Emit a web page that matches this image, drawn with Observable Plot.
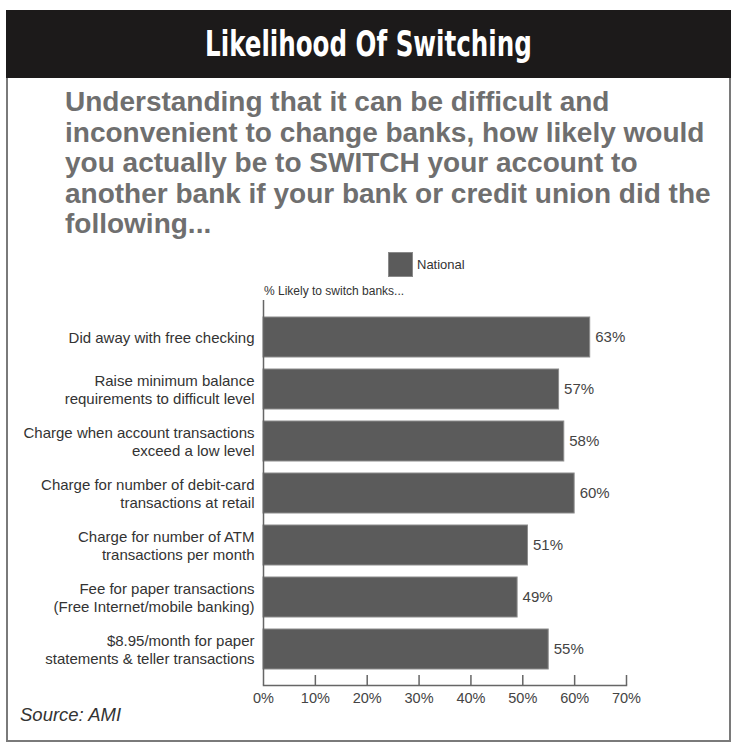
<!DOCTYPE html>
<html>
<head>
<meta charset="utf-8">
<script src="https://cdn.jsdelivr.net/npm/d3@7"></script>
<script src="https://cdn.jsdelivr.net/npm/@observablehq/plot@0.6"></script>
<style>
  html, body { margin: 0; padding: 0; background: #fff; }
  #card { margin: 10px 0 0 6px; width: 725px; height: 732px; border: 2px solid #7a7a7a; box-sizing: border-box; font-family: "Liberation Sans", Arial, sans-serif; }
  #title { margin: -2px -2px 0 -2px; height: 68px; background: #1c1a1a; display: flex; align-items: center; justify-content: center; }
  #title span { display: inline-block; color: #fff; font-family: "DejaVu Sans Condensed", "DejaVu Sans", sans-serif; font-stretch: condensed; font-weight: bold; font-size: 35px; line-height: 40px; transform: scaleX(0.78); white-space: nowrap; }
  #question { margin: 9px 0 0 57px; color: #6f6f6f; font-weight: bold; font-size: 28px; line-height: 30.5px; white-space: nowrap; }
  #legend { margin: 12px 0 0 380px; height: 25px; display: flex; align-items: center; font-size: 13px; color: #333; white-space: nowrap; }
  #legend i { display: inline-block; width: 23px; height: 23px; background: #5b5b5b; border: 1px solid #8a8a8a; margin-right: 4px; }
  #unit { margin: 7px 0 0 256px; height: 14px; line-height: 14px; font-size: 12px; color: #333; white-space: nowrap; }
  #chart { margin: -20px 0 0 -8px; width: 740px; height: 430px; }
  #chart svg { display: block; }
  #source { margin: -4px 0 0 12px; line-height: 21px; font-style: italic; font-size: 18.5px; color: #333; white-space: nowrap; }
</style>
</head>
<body>
<div id="card">
  <div id="title"><span>Likelihood Of Switching</span></div>
  <div id="question">Understanding that it can be difficult and<br>inconvenient to change banks, how likely would<br>you actually be to SWITCH your account to<br>another bank if your bank or credit union did the<br>following...</div>
  <div id="legend"><i></i><span>National</span></div>
  <div id="unit">% Likely to switch banks...</div>
  <div id="chart"></div>
  <div id="source">Source: AMI</div>
</div>
<script>
// Survey items (top to bottom) and the share likely to switch, in percent
const actions = [
  "Did away with free checking",
  "Raise minimum balance\nrequirements to difficult level",
  "Charge when account transactions\nexceed a low level",
  "Charge for number of debit-card\ntransactions at retail",
  "Charge for number of ATM\ntransactions per month",
  "Fee for paper transactions\n(Free Internet/mobile banking)",
  "$8.95/month for paper\nstatements & teller transactions"
];
const national = [63, 57, 58, 60, 51, 49, 55];
const xTicks = [0, 10, 20, 30, 40, 50, 60, 70];

const rows = actions.map((action, i) => ({action, value: national[i]}));

const width = 740, height = 430, marginTop = 22, marginBottom = 23;
const innerHeight = height - marginTop - marginBottom;

const chart = Plot.plot({
  width, height,
  marginLeft: 263, marginRight: 114, marginTop, marginBottom,
  style: {fontFamily: "Liberation Sans, Arial, sans-serif", color: "#333", background: "transparent", overflow: "visible"},
  x: {domain: [0, 70]},
  y: {domain: actions, paddingInner: 0.235, paddingOuter: 0.28},
  marks: [
    Plot.barX(rows, {x: "value", y: "action", fill: "#5b5b5b", stroke: "#8c8c8c", strokeWidth: 1}),
    Plot.text(rows, {x: "value", y: "action", text: d => `${d.value}%`, textAnchor: "start", dx: 5, fontSize: 15, fill: "#444"}),
    Plot.ruleX([0], {stroke: "#666", strokeWidth: 1.5}),
    Plot.ruleX(xTicks.slice(1), {stroke: "#666", strokeWidth: 1.5, insetTop: innerHeight - 10}),
    Plot.frame({anchor: "bottom", stroke: "#666", strokeWidth: 1.5}),
    Plot.axisX({ticks: xTicks, tickFormat: d => `${d}%`, tickSize: 0, tickPadding: 7, fontSize: 14.5, fill: "#444", label: null}),
    Plot.axisY({tickSize: 0, tickPadding: 9, fontSize: 15, fill: "#333", label: null, lineHeight: 1.14})
  ]
});
document.getElementById("chart").appendChild(chart);
</script>
</body>
</html>
